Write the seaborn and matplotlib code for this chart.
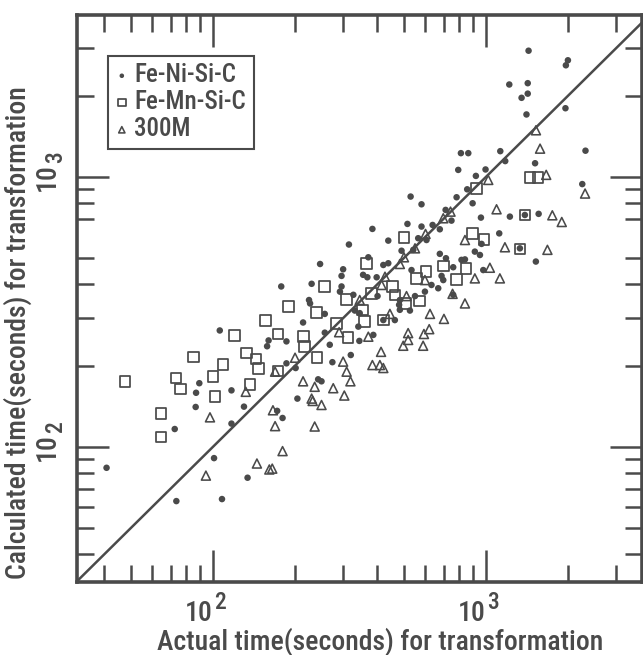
import matplotlib
matplotlib.use("Agg")
import matplotlib.pyplot as plt
import pandas as pd
import seaborn as sns
from matplotlib import font_manager as fm
from matplotlib.ticker import NullFormatter

# ---------------- data (seconds) ----------------
series_names = ["Fe-Ni-Si-C", "Fe-Mn-Si-C", "300M"]

ni_actual = [792, 919, 530, 581, 781, 854, 894, 712, 748, 959, 1224, 1560, 516, 581,
             638, 678, 384, 439, 315, 565, 606, 491, 542, 1119, 964, 247, 300, 296,
             371, 421, 439, 355, 368, 398, 678, 714, 814, 838, 911, 951, 1524, 759,
             688, 698, 534, 632, 669, 978, 230, 296, 292, 327, 178, 401, 550, 598,
             484, 481, 484, 527, 225, 227, 257, 331, 345, 341, 464, 214, 257, 268,
             344, 387, 186, 186, 201, 320, 274, 243, 250, 204, 759, 421, 1389, 1332,
             40.8, 73.5, 72.5, 86.5, 86.8, 89.2, 101, 108, 106, 117, 117, 130, 134,
             158, 160, 172, 180, 810, 862, 997, 1129, 1177, 1218, 1351, 1423, 1423,
             1408, 1433, 1514, 1997, 1963, 1956, 2316, 2254]
ni_calc = [1062, 1009, 846, 792, 841, 900, 799, 755, 689, 707, 713, 730, 670, 655,
           664, 640, 642, 581, 562, 593, 584, 533, 537, 618, 565, 476, 455, 430,
           504, 472, 479, 434, 425, 425, 519, 500, 493, 495, 529, 514, 486, 463,
           430, 415, 452, 398, 387, 452, 402, 393, 376, 366, 393, 362, 362, 376,
           350, 336, 322, 320, 350, 340, 311, 320, 313, 279, 295, 289, 265, 239,
           247, 260, 246, 204, 196, 219, 206, 178, 175, 151, 366, 295, 723, 544,
           83.7, 63.0, 116.5, 140.6, 158.7, 172.2, 90.9, 64.1, 270, 122, 162, 141, 76.9,
           236, 248, 136, 128, 1225, 1225, 1066, 1246, 1145, 2200, 1964, 2225, 2035,
           1704, 2935, 1124, 2705, 2592, 1797, 1251, 941]

mn_actual = [1450, 924, 501, 894, 983, 1332, 1389, 366, 603, 698, 557, 781, 845, 257,
             381, 455, 464, 509, 570, 309, 353, 360, 189, 240, 284, 421, 215, 217,
             313, 241, 47.7, 64.5, 64.5, 73.3, 76.1, 85.0, 100, 101.7, 109, 120,
             133, 144, 147, 137, 156, 173, 173, 1551]
mn_calc = [997, 908, 596, 618, 588, 541, 723, 479, 446, 468, 421, 418, 458, 393,
           371, 393, 366, 340, 347, 352, 322, 291, 331, 315, 287, 295, 256, 235,
           254, 214, 175, 133, 109, 180, 164, 215, 182, 154, 202, 259,
           223, 212, 195, 170, 294, 262, 191, 993]

m300_actual = [1020, 698, 742, 1094, 601, 838, 550, 1174, 501, 484, 1034, 1125, 911,
               427, 415, 512, 345, 598, 755, 838, 624, 702, 445, 290, 371, 519, 593,
               620, 519, 498, 589, 413, 384, 409, 421, 300, 309, 319, 200, 214, 236,
               276, 303, 230, 94.3, 97.6, 145, 161, 165, 166, 169, 180, 132, 169,
               232, 250, 236, 1525, 1579, 1663, 1751, 1896, 1680, 2308]
m300_calc = [975, 703, 744, 759, 615, 584, 544, 549, 504, 476, 461, 421, 421,
             427, 398, 362, 350, 415, 369, 340, 311, 298, 311, 266, 256, 264, 262,
             273, 249, 237, 237, 225, 201, 201, 196, 207, 190, 175, 214, 175, 167,
             165, 155, 151, 78.3, 128.7, 86.8, 82.5, 83.1, 136.7, 119.4, 96.5, 160, 190,
             148, 143, 119, 1489, 1273, 1018, 721, 681, 537, 868]

x_major = [100, 1000]
x_minor = [40, 50, 60, 70, 80, 90, 200, 300, 400, 500, 600, 700, 800, 900, 2000, 3000]
y_major = [100, 1000]
y_minor = [40, 50, 60, 70, 80, 90, 200, 300, 400, 500, 700, 800, 900, 2000, 3000]
major_base = "10"
major_exponents = ["2", "3"]
x_lim = (31.8, 3730)
y_lim = (31.6, 3980)
equality_line = [10, 10000]

# ---------------- style ----------------
sns.set_theme(style="ticks")

narrow_pref = ["Liberation Sans Narrow", "Roboto Condensed", "Open Sans Condensed",
               "Noto Sans Condensed", "DejaVu Sans Condensed"]
fam, stretch = None, "normal"
entries = fm.fontManager.ttflist
for pref in narrow_pref:
    for f in entries:
        if f.name == pref and f.style == "normal":
            fam, stretch = f.name, f.stretch
            break
    if fam:
        break
if fam is None:
    for f in entries:
        st = str(f.stretch)
        if ("condensed" in st) and f.style == "normal" and "Mono" not in f.name \
                and "Serif" not in f.name:
            fam, stretch = f.name, st
            break
if fam is None:
    fam, stretch = "Roboto", "normal"
plt.rcParams["font.family"] = [fam, "DejaVu Sans"]
plt.rcParams["font.stretch"] = stretch
plt.rcParams["font.weight"] = "medium"
plt.rcParams["axes.labelweight"] = "medium"
narrow = stretch != "normal" or "Narrow" in fam or "Condensed" in fam
fs = 20 if narrow else 16
lfs = 18 if narrow else 15
tfs = 20 if narrow else 16

ink = "#4a4a4a"

fig = plt.figure(figsize=(6.43, 6.55), dpi=100)
ax = fig.add_axes([77 / 643, 73 / 655, 565 / 643, 567 / 655])
ax.set_xscale("log")
ax.set_yscale("log")

ax.plot(equality_line, equality_line, color=ink, lw=1.8, zorder=1)

df_ni = pd.DataFrame({"actual": ni_actual, "calc": ni_calc})
df_mn = pd.DataFrame({"actual": mn_actual, "calc": mn_calc})
df_300 = pd.DataFrame({"actual": m300_actual, "calc": m300_calc})

sns.scatterplot(data=df_ni, x="actual", y="calc", ax=ax, marker="o", s=22,
                color=ink, edgecolor="none", linewidth=0, label=series_names[0], zorder=3)
sns.scatterplot(data=df_mn, x="actual", y="calc", ax=ax, marker="s", s=58,
                facecolor="none", edgecolor=ink, linewidth=1.25, label=series_names[1], zorder=3)
sns.scatterplot(data=df_300, x="actual", y="calc", ax=ax, marker="^", s=42,
                facecolor="none", edgecolor=ink, linewidth=1.15, label=series_names[2], zorder=3)

ax.set_xlim(*x_lim)
ax.set_ylim(*y_lim)

for sp in ax.spines.values():
    sp.set_visible(True)
    sp.set_color(ink)
    sp.set_linewidth(2.6)

ax.set_xticks(x_major, labels=[major_base for _ in x_major])
ax.set_xticks(x_minor, minor=True)
ax.set_yticks(y_major, labels=[major_base for _ in y_major])
ax.set_yticks(y_minor, minor=True)
ax.xaxis.set_minor_formatter(NullFormatter())
ax.yaxis.set_minor_formatter(NullFormatter())

ax.tick_params(which="both", direction="in", top=True, right=True, color=ink,
               labelcolor=ink, width=1.8)
ax.tick_params(which="major", length=23, labelsize=tfs)
ax.tick_params(which="minor", length=12)
ax.tick_params(axis="x", which="major", pad=13)
ax.tick_params(axis="y", which="major", pad=12)
for lbl in ax.get_xticklabels():
    lbl.set_ha("right")
for lbl in ax.get_yticklabels():
    lbl.set_rotation(90)
    lbl.set_va("center")

# exponents of the decade labels (raised, written after the "10")
for v, e in zip(x_major, major_exponents):
    ax.annotate(e, xy=(v, 0), xycoords=ax.get_xaxis_transform(), xytext=(1, -9),
                textcoords="offset pixels", ha="left", va="top",
                fontsize=tfs - 3, color=ink)
for v, e in zip(y_major, major_exponents):
    ax.annotate(e, xy=(0, v), xycoords=ax.get_yaxis_transform(), xytext=(-10, 14),
                textcoords="offset pixels", rotation=90, ha="right", va="bottom",
                fontsize=tfs - 3, color=ink)

ax.set_xlabel("Actual time(seconds) for transformation", fontsize=fs, color=ink)
ax.xaxis.set_label_coords(0.536, -0.080)
ax.set_ylabel("Calculated time(seconds) for transformation", fontsize=fs, color=ink)
ax.yaxis.set_label_coords(-0.079, 0.44)

leg = ax.legend(loc="upper left", bbox_to_anchor=(0.055, 0.928), borderaxespad=0,
                frameon=True, fancybox=False, framealpha=1, edgecolor=ink, fontsize=lfs,
                handlelength=0.5, handletextpad=0.25, borderpad=0.3, labelspacing=0.12,
                markerscale=0.7)
leg.get_frame().set_linewidth(1.5)
for t in leg.get_texts():
    t.set_color(ink)

fig.savefig("out.png", dpi=100)
